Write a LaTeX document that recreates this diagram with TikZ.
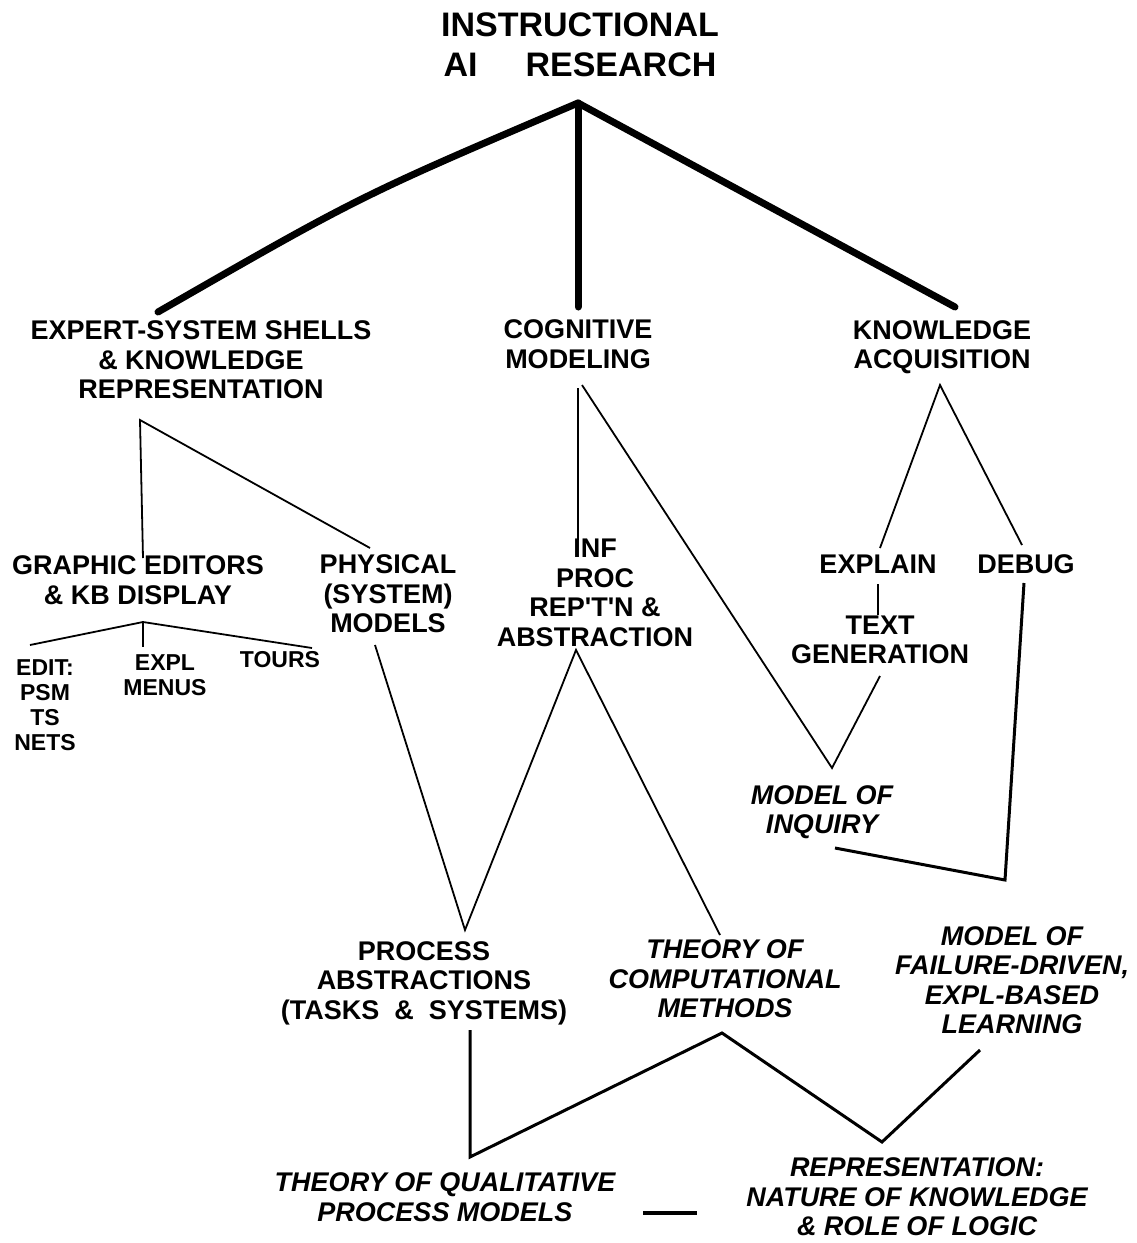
\documentclass[tikz,border=0pt]{standalone}
\usepackage{fontspec}
\setmainfont{Liberation Sans}

\tikzset{
    lbl/.style={font=\fontsize{27}{29.5}\selectfont\bfseries, align=center, inner sep=0pt},
    ilbl/.style={lbl, font=\fontsize{27}{29.5}\selectfont\bfseries\itshape},
    sml/.style={lbl, font=\fontsize{23}{25}\selectfont\bfseries},
    heading/.style={lbl, font=\fontsize{34}{40}\selectfont\bfseries},
    branch/.style={line width=7pt, line cap=round},
    twig/.style={line width=1.8pt},
    stem/.style={line width=3pt},
}

\begin{document}
\begin{tikzpicture}[x=1pt,y=-1pt]
    \useasboundingbox (0,0) rectangle (1136,1243);

    % top
    \node[heading] (root) at (580,45) {INSTRUCTIONAL\\AI\hspace{48pt}RESEARCH};

    % second level
    \node[lbl] (esk) at (201,360) {EXPERT-SYSTEM SHELLS\\\& KNOWLEDGE\\REPRESENTATION};
    \node[lbl] (cog) at (578,344) {COGNITIVE\\MODELING};
    \node[lbl] (kac) at (942,347) {KNOWLEDGE\\ACQUISITION};

    % third level
    \node[lbl] (ged) at (138,580) {GRAPHIC EDITORS\\\& KB DISPLAY};
    \node[lbl] (phy) at (388,594) {PHYSICAL\\(SYSTEM)\\MODELS};
    \node[lbl] (inf) at (595,593) {INF\\PROC\\REP\textquotesingle T\textquotesingle N \&\\ABSTRACTION};
    \node[lbl] (expl) at (878,564) {EXPLAIN};
    \node[lbl] (dbg) at (1026,564) {DEBUG};
    \node[lbl] (txt) at (880,640) {TEXT\\GENERATION};

    \node[sml] (edit) at (45,705) {EDIT:\\PSM\\TS\\NETS};
    \node[sml] (menu) at (165,675) {EXPL\\MENUS};
    \node[sml] (tours) at (280,660) {TOURS};

    % theories
    \node[ilbl] (inq) at (822,812) {MODEL OF\\INQUIRY};
    \node[lbl] (proc) at (424,983) {PROCESS\\ABSTRACTIONS\\(TASKS \ \& \ SYSTEMS)};
    \node[ilbl] (tcm) at (725,979) {THEORY OF\\COMPUTATIONAL\\METHODS};
    \node[ilbl] (mfd) at (1012,980) {MODEL OF\\FAILURE-DRIVEN,\\EXPL-BASED\\LEARNING};
    \node[ilbl] (tqp) at (445,1197) {THEORY OF QUALITATIVE\\PROCESS MODELS};
    \node[ilbl] (rep) at (917,1197) {REPRESENTATION:\\NATURE OF KNOWLEDGE\\\& ROLE OF LOGIC};

    % main branches
    \draw[branch] ([shift={(-2,58)}]root.center) .. controls (360,196) .. ([shift={(-43,-48)}]esk.center);
    \draw[branch] ([shift={(-2,58)}]root.center) -- ([shift={(0,-37)}]cog.center);
    \draw[branch] ([shift={(-2,58)}]root.center) -- ([shift={(13,-40)}]kac.center);

    % expert systems
    \draw[twig] ([shift={(5,-22)}]ged.center) -- ([shift={(-61,60)}]esk.center) -- ([shift={(-18,-46)}]phy.center);
    \draw[twig] ([shift={(-15,-60)}]edit.center) -- ([shift={(5,42)}]ged.center) -- ([shift={(32,-12)}]tours.center);
    \draw[twig] ([shift={(5,42)}]ged.center) -- ([shift={(-22,-28)}]menu.center);

    % cognitive modeling
    \draw[twig] ([shift={(0,44)}]cog.center) -- ([shift={(-17,-53)}]inf.center);
    \draw[twig] ([shift={(4,41)}]cog.center) -- ([shift={(10,-44)}]inq.center) -- ([shift={(0,36)}]txt.center);

    % knowledge acquisition
    \draw[twig] ([shift={(2,-16)}]expl.center) -- ([shift={(-2,38)}]kac.center) -- ([shift={(-4,-19)}]dbg.center);
    \draw[twig] ([shift={(0,20)}]expl.center) -- ([shift={(-2,-25)}]txt.center);
    \draw[stem] ([shift={(-2,19)}]dbg.center) -- ([shift={(-7,-100)}]mfd.center) -- ([shift={(13,36)}]inq.center);

    % process abstractions
    \draw[twig] ([shift={(-13,51)}]phy.center) -- ([shift={(41,-53)}]proc.center) -- ([shift={(-19,57)}]inf.center) -- ([shift={(-5,-44)}]tcm.center);

    % bottom
    \draw[stem] ([shift={(46,47)}]proc.center) -- ([shift={(25,-40)}]tqp.center) -- ([shift={(-3,54)}]tcm.center) -- ([shift={(-35,-55)}]rep.center) -- ([shift={(-32,70)}]mfd.center);
    \draw[line width=4pt] ([shift={(198,16)}]tqp.center) -- ([shift={(-220,16)}]rep.center);
\end{tikzpicture}
\end{document}
